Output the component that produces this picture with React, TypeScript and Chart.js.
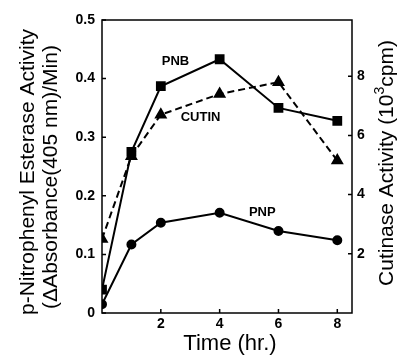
import React, { useEffect, useRef } from "react";
import { Chart, registerables } from "chart.js";

Chart.register(...registerables);

const times = [0, 1, 2, 4, 6, 8];
const pnb = [0.04, 0.275, 0.387, 0.433, 0.35, 0.328];
const pnp = [0.015, 0.117, 0.154, 0.171, 0.14, 0.124];
const cutin = [2.5, 5.3, 6.7, 7.4, 7.8, 5.15];
const xTicks = [2, 4, 6, 8];
const yTicks = [0, 0.1, 0.2, 0.3, 0.4, 0.5];
const y2Ticks = [2, 4, 6, 8];
const seriesLabels = [
  { text: "PNB", x: 2.5, y: 0.43 },
  { text: "CUTIN", x: 3.35, y: 0.333 },
  { text: "PNP", x: 5.45, y: 0.172 },
];
const leftTitle = ["p-Nitrophenyl Esterase Activity", "(\u0394Absorbance(405 nm)/Min)"];
const rightTitle = "Cutinase Activity (10";
const xTitle = "Time (hr.)";

const FONT = "'Liberation Sans', Arial, Helvetica, sans-serif";

const framePlugin = {
  id: "frame",
  afterDraw(chart: any) {
    const { ctx, chartArea } = chart;
    const { left, right, top, bottom } = chartArea;
    const sx = chart.scales.x, sy = chart.scales.y, sy2 = chart.scales.y2;
    ctx.save();
    ctx.strokeStyle = "#000";
    ctx.lineWidth = 1.5;
    ctx.strokeRect(left, top, right - left, bottom - top);
    ctx.beginPath();
    yTicks.forEach((v) => {
      const p = sy.getPixelForValue(v);
      ctx.moveTo(left, p); ctx.lineTo(left + 4, p);
    });
    y2Ticks.forEach((v) => {
      const p = sy2.getPixelForValue(v);
      ctx.moveTo(right, p); ctx.lineTo(right - 4, p);
    });
    xTicks.forEach((v) => {
      const p = sx.getPixelForValue(v);
      ctx.moveTo(p, bottom); ctx.lineTo(p, bottom - 4);
    });
    ctx.stroke();

    ctx.fillStyle = "#000";
    // series labels
    ctx.font = `bold 13px ${FONT}`;
    ctx.textAlign = "center";
    ctx.textBaseline = "middle";
    seriesLabels.forEach((l) => {
      ctx.fillText(l.text, sx.getPixelForValue(l.x), sy.getPixelForValue(l.y));
    });

    // x title
    ctx.font = `22px ${FONT}`;
    ctx.fillText(xTitle, 230, 344);

    // left title
    ctx.save();
    ctx.translate(28, 172);
    ctx.rotate(-Math.PI / 2);
    ctx.font = `21px ${FONT}`;
    ctx.fillText(leftTitle[0], 0, 0);
    ctx.fillText(leftTitle[1], -5, 23);
    ctx.restore();

    // right title
    ctx.save();
    ctx.translate(387, 163);
    ctx.rotate(-Math.PI / 2);
    ctx.font = `21px ${FONT}`;
    const w1 = ctx.measureText(rightTitle).width;
    ctx.font = `14px ${FONT}`;
    const w2 = ctx.measureText("3").width;
    ctx.font = `21px ${FONT}`;
    const w3 = ctx.measureText("cpm)").width;
    const total = w1 + w2 + w3;
    ctx.textAlign = "left";
    let cx = -total / 2;
    ctx.fillText(rightTitle, cx, 0);
    cx += w1;
    ctx.font = `14px ${FONT}`;
    ctx.fillText("3", cx, -7);
    cx += w2;
    ctx.font = `21px ${FONT}`;
    ctx.fillText("cpm)", cx, 0);
    ctx.restore();

    ctx.restore();
  },
};

export default function App() {
  const ref = useRef<HTMLCanvasElement>(null);
  useEffect(() => {
    if (!ref.current) return;
    const tickFont = { family: FONT, size: 14, weight: "bold" as const };
    const chart = new Chart(ref.current, {
      type: "line",
      data: {
        datasets: [
          {
            label: "PNB",
            data: times.map((t, i) => ({ x: t, y: pnb[i] })),
            borderColor: "#000",
            backgroundColor: "#000",
            borderWidth: 2,
            pointStyle: "rect",
            pointRadius: 5.5,
            yAxisID: "y",
          },
          {
            label: "CUTIN",
            data: times.map((t, i) => ({ x: t, y: cutin[i] })),
            borderColor: "#000",
            backgroundColor: "#000",
            borderWidth: 2,
            borderDash: [7, 4],
            pointStyle: "triangle",
            pointRadius: 5.5,
            yAxisID: "y2",
          },
          {
            label: "PNP",
            data: times.map((t, i) => ({ x: t, y: pnp[i] })),
            borderColor: "#000",
            backgroundColor: "#000",
            borderWidth: 2,
            pointStyle: "circle",
            pointRadius: 4,
            yAxisID: "y",
          },
        ],
      },
      options: {
        responsive: false,
        animation: false,
        layout: { padding: { top: 20, left: 0, right: 0, bottom: 0 } },
        plugins: { legend: { display: false }, tooltip: { enabled: false } },
        scales: {
          x: {
            type: "linear",
            min: 0,
            max: 8.5,
            afterBuildTicks: (s: any) => { s.ticks = xTicks.map((v) => ({ value: v })); },
            afterFit: (s: any) => { s.height = 42; },
            grid: { display: false, drawTicks: false },
            border: { display: false },
            ticks: { color: "#000", font: tickFont, padding: 3, maxRotation: 0 },
          },
          y: {
            type: "linear",
            position: "left",
            min: 0,
            max: 0.5,
            afterBuildTicks: (s: any) => { s.ticks = yTicks.map((v) => ({ value: v })); },
            afterFit: (s: any) => { s.width = 102; },
            grid: { display: false, drawTicks: false },
            border: { display: false },
            ticks: { color: "#000", font: tickFont, padding: 7, callback: (v: any) => String(v) },
          },
          y2: {
            type: "linear",
            position: "right",
            min: 0,
            max: 9.9,
            afterBuildTicks: (s: any) => { s.ticks = y2Ticks.map((v) => ({ value: v })); },
            afterFit: (s: any) => { s.width = 54; },
            grid: { display: false, drawTicks: false },
            border: { display: false },
            ticks: { color: "#000", font: tickFont, padding: 5, callback: (v: any) => String(v) },
          },
        },
      },
      plugins: [framePlugin],
    });
    return () => chart.destroy();
  }, []);
  return (
    <div style={{ position: "absolute", left: 0, top: 0, width: 406, height: 355, background: "#fff" }}>
      <canvas ref={ref} width={406} height={355} />
    </div>
  );
}
